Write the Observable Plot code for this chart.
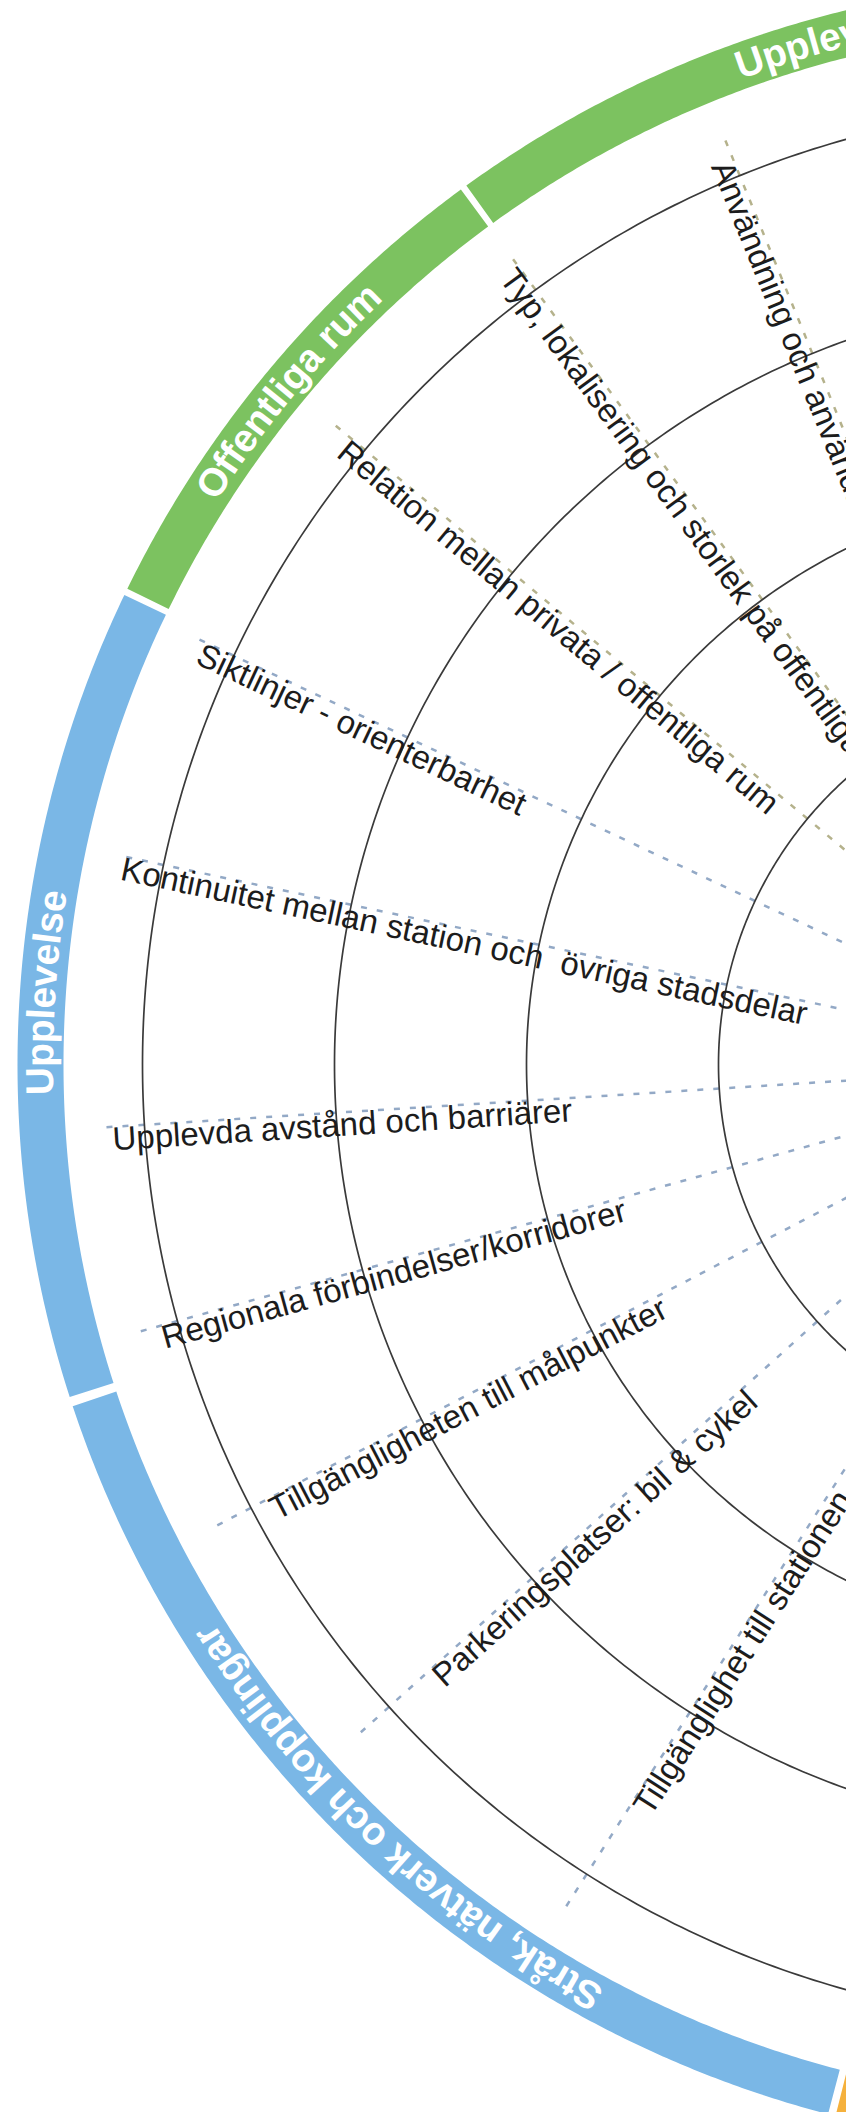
<!DOCTYPE html>
<html><head><meta charset="utf-8">
<script src="https://cdn.jsdelivr.net/npm/d3@7"></script>
<script src="https://cdn.jsdelivr.net/npm/@observablehq/plot@0.6"></script>
<style>html,body{margin:0;padding:0;background:#fff;overflow:hidden}#chart svg{display:block}</style>
</head><body><div id="chart"></div>
<script>
// ---- data ----
const ringLevels = [1, 2, 3, 4, 5];
const spokeLabels = [
  "Användning och användare",
  "Typ, lokalisering och storlek på offentliga rum",
  "Relation mellan privata / offentliga rum",
  "Siktlinjer - orienterbarhet",
  "Kontinuitet mellan station och \u00a0övriga stadsdelar",
  "Upplevda avstånd och barriärer",
  "Regionala förbindelser/korridorer",
  "Tillgängligheten till målpunkter",
  "Parkeringsplatser: bil & cykel",
  "Tillgänglighet till stationen"
];
const spokeAngles = [112.2, 126.2, 140.2, 154.8, 168.0, 183.6, 195.5, 207.5, 222.0, 237.5];
const spokeSection = ["Upplevelse", "Offentliga rum", "Offentliga rum", "Upplevelse", "Upplevelse", "Upplevelse",
  "Upplevelse", "Stråk", "Stråk", "Stråk"];
const labelStartR = [5.10, 5.16, 5.10, 5.17, 5.21, 5.17, 5.10, 4.91, 4.72, 4.57];
const sectionNames = ["Upplevelse", "Offentliga rum", "Upplevelse", "Stråk, nätverk och kopplingar", ""];
const sectionFrom = [60, 126.1, 154.2, 198.2, 255.6];
const sectionTo = [126.1, 154.2, 198.2, 255.6, 300];
const sectionColors = ["#7cc260", "#7cc260", "#7ab7e6", "#7ab7e6", "#f5b13d"];
const sectionLabelAngle = [104.6, 140.4, 176.1, 226.9, null];

// ---- geometry helpers ----
const unit = 192;           // px per ring level
const cxPx = 1102, cyPx = 1064, W = 846, H = 2112;
const deg = Math.PI / 180;
const bandMid = 1062 / unit;
const spokeEnd = 1005 / unit;

const ringPts = [];
for (const lv of ringLevels) for (let a = 60; a <= 300; a += 0.5)
  ringPts.push({level: lv, x: lv * Math.cos(a * deg), y: lv * Math.sin(a * deg)});

const bandPts = [];
sectionNames.forEach((n, s) => {
  const a0 = sectionFrom[s] + 0.15, a1 = sectionTo[s] - 0.15;
  for (let a = a0; a <= a1 + 1e-9; a += 0.25)
    bandPts.push({s, color: sectionColors[s], x: bandMid * Math.cos(a * deg), y: bandMid * Math.sin(a * deg)});
});

const spokes = spokeLabels.map((t, i) => ({
  label: t, a: spokeAngles[i],
  color: spokeSection[i] === "Offentliga rum" || i === 0 ? "#b5b28c" : "#93a9c6",
  x2: spokeEnd * Math.cos(spokeAngles[i] * deg), y2: spokeEnd * Math.sin(spokeAngles[i] * deg),
  lx: labelStartR[i] * Math.cos(spokeAngles[i] * deg), ly: labelStartR[i] * Math.sin(spokeAngles[i] * deg),
  rot: 180 - spokeAngles[i]
}));

const bandSize = 39;
const bandFont = `bold ${bandSize}px 'Liberation Sans', Arial, sans-serif`;
const ctx = document.createElement("canvas").getContext("2d");
ctx.font = bandFont;
const bandChars = [];
sectionNames.forEach((name, s) => {
  if (!name) return;
  const total = ctx.measureText(name).width;
  const Rpx = bandMid * unit;
  const chars = Array.from(name);
  chars.forEach((ch, i) => {
    const off = ctx.measureText(chars.slice(0, i).join("")).width;
    const w = ctx.measureText(ch).width;
    const phi = sectionLabelAngle[s] + ((total / 2 - (off + w / 2)) / Rpx) / deg;
    bandChars.push({ch, x: bandMid * Math.cos(phi * deg), y: bandMid * Math.sin(phi * deg), rot: 90 - phi});
  });
});

const chart = Plot.plot({
  width: W, height: H, margin: 0,
  x: {domain: [-cxPx / unit, (W - cxPx) / unit], axis: null},
  y: {domain: [(cyPx - H) / unit, cyPx / unit], axis: null},
  color: {type: "identity"},
  style: {background: "#fff"},
  marks: [
    Plot.line(bandPts, {x: "x", y: "y", z: "s", stroke: "color", strokeWidth: 46, strokeLinecap: "butt", curve: "linear"}),
    Plot.link(spokes, {x1: 0, y1: 0, x2: "x2", y2: "y2", stroke: "color", strokeWidth: 2.5, strokeDasharray: "6,10"}),
    Plot.line(ringPts, {x: "x", y: "y", z: "level", stroke: "#3a3a3a", strokeWidth: 1.7, curve: "linear"}),
    Plot.text(spokes, {x: "lx", y: "ly", text: "label", rotate: "rot", textAnchor: "start", lineAnchor: "top",
      fontSize: 33, fontFamily: "'Liberation Sans', Arial, sans-serif", fill: "#1c1c1c"}),
    Plot.text(bandChars, {x: "x", y: "y", text: "ch", rotate: "rot", textAnchor: "middle", lineAnchor: "middle",
      fontSize: bandSize, fontWeight: "bold", fontFamily: "'Liberation Sans', Arial, sans-serif", fill: "#ffffff"})
  ]
});
document.getElementById("chart").appendChild(chart);
</script>
</body></html>
